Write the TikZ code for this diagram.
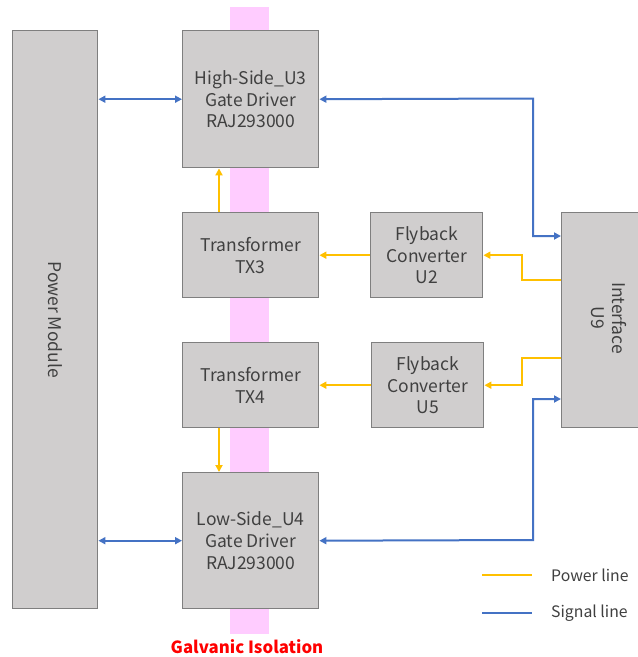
\documentclass[tikz,border=0pt]{standalone}
\usepackage{fontspec}
\setmainfont{Noto Sans CJK JP}
\usetikzlibrary{arrows.meta}
\definecolor{boxfill}{HTML}{D0CECE}
\definecolor{boxline}{HTML}{7F7F7F}
\definecolor{txt}{HTML}{404040}
\definecolor{sigblue}{HTML}{4472C4}
\definecolor{pwryel}{HTML}{FFC000}
\definecolor{pinkband}{HTML}{FFCCFF}
\definecolor{isored}{HTML}{FF0000}
\tikzset{
  blk/.style={draw=boxline, fill=boxfill, line width=1.4pt, text=txt, align=center,
    inner sep=0pt, anchor=north west, font=\fontsize{17.5}{21.7}\selectfont},
  sig/.style={draw=sigblue, line width=2pt, -{Triangle[length=7pt,width=7pt]}},
  sigboth/.style={sig, {Triangle[length=7pt,width=7pt]}-{Triangle[length=7pt,width=7pt]}},
  pwr/.style={draw=pwryel, line width=2pt, -{Triangle[length=7pt,width=7pt]}},
  legtxt/.style={text=txt, anchor=west, inner sep=0pt, font=\fontsize{15.8}{18}\selectfont}
}
\begin{document}
\begin{tikzpicture}[x=1pt,y=-1pt]
\clip (0,0) rectangle (638,657);
\fill[white] (0,0) rectangle (638,657);
% isolation band
\fill[pinkband] (230,7) rectangle (269,634);
% blocks
\node[blk, minimum width=85pt, minimum height=578pt] (pm) at (12,30) {};
\node[txt, rotate=-90, font=\fontsize{17.5}{21.7}\selectfont] at (pm.center) {Power Module};
\node[blk, minimum width=136pt, minimum height=137pt] (hs) at (182,30) {High-Side\_U3\\Gate Driver\\RAJ293000};
\node[blk, minimum width=136pt, minimum height=85pt] (tx3) at (182,212) {Transformer\\TX3};
\node[blk, minimum width=112pt, minimum height=85pt] (u2) at (370,212) {Flyback\\Converter\\U2};
\node[blk, minimum width=136pt, minimum height=85pt] (tx4) at (182,342) {Transformer\\TX4};
\node[blk, minimum width=112pt, minimum height=85pt] (u5) at (371,342) {Flyback\\Converter\\U5};
\node[blk, minimum width=136pt, minimum height=136pt] (ls) at (182,472) {Low-Side\_U4\\Gate Driver\\RAJ293000};
\node[blk, minimum width=97pt, minimum height=215pt] (if) at (561,212) {};
\node[txt, rotate=-90, align=center, font=\fontsize{17.5}{21.7}\selectfont] at (609,318) {Interface\\U9};
% connection points on the interface
\coordinate (ifA) at (561,236);
\coordinate (ifB) at (561,280);
\coordinate (ifC) at (561,358);
\coordinate (ifD) at (561,399);
% signal lines
\draw[sigboth] (pm.east |- hs.west) -- (hs.west);
\draw[sigboth] (pm.east |- ls.west) -- (ls.west);
\draw[sigboth] (hs.east) -- (533,98.5) |- (ifA);
\draw[sigboth] (ls.east) -- (533,540) |- (ifD);
% power lines
\draw[pwr] (ifB) -- (522,280) |- (u2.east);
\draw[pwr] (ifC) -- (522,358) |- (u5.east);
\draw[pwr] (u2.west) -- (tx3.east);
\draw[pwr] (u5.west) -- (tx4.east);
\draw[pwr] ([xshift=37pt]tx3.north west) -- ([xshift=37pt]hs.south west);
\draw[pwr] ([xshift=37pt]tx4.south west) -- ([xshift=37pt]ls.north west);
% legend
\coordinate (lp1) at (482,575); \coordinate (lp2) at (532,575);
\coordinate (ls1) at (482,613); \coordinate (ls2) at (532,613);
\draw[draw=pwryel, line width=2pt] (lp1) -- (lp2);
\draw[draw=sigblue, line width=2pt] (ls1) -- (ls2);
\node[legtxt] (lpt) at (551,575) {Power line};
\node[legtxt] (lst) at (551,613) {Signal line};
% label
\node[text=isored, font=\bfseries\fontsize{16.8}{18}\selectfont] (gi) at (247,647) {Galvanic Isolation};
\end{tikzpicture}
\end{document}
